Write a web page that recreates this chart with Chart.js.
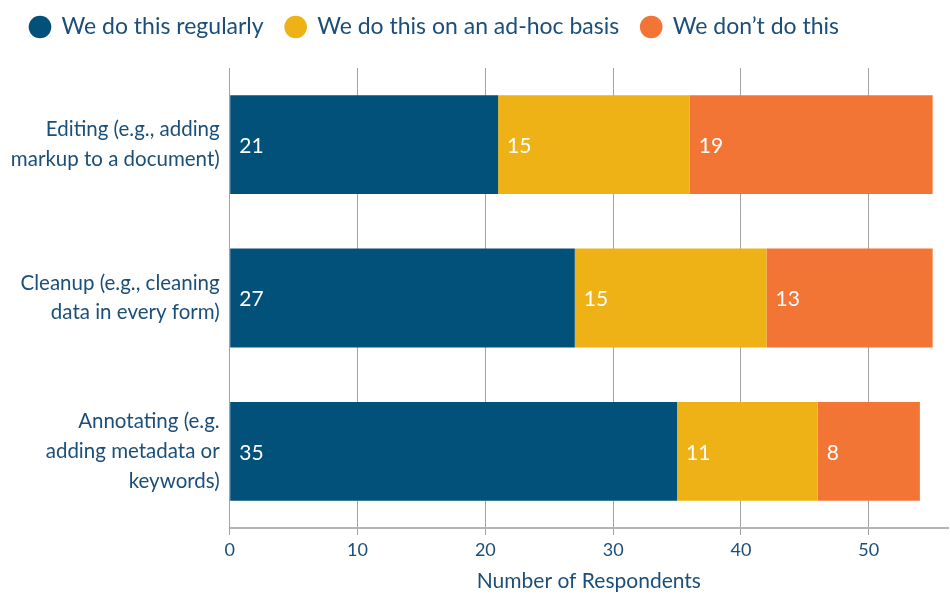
<!DOCTYPE html>
<html>
<head>
<meta charset="utf-8">
<script src="https://cdn.jsdelivr.net/npm/chart.js@4"></script>
<style>
html,body{margin:0;padding:0;background:#fff;}
#wrap{width:950px;height:594px;}
</style>
</head>
<body>
<div id="wrap"><canvas id="c" width="950" height="594"></canvas></div>
<script>
const categories = [
  ["Editing (e.g., adding", "markup to a document)"],
  ["Cleanup (e.g., cleaning", "data in every form)"],
  ["Annotating (e.g.", "adding metadata or", "keywords)"]
];
const seriesNames = ["We do this regularly", "We do this on an ad-hoc basis", "We don\u2019t do this"];
const regularly = [21, 27, 35];
const adhoc = [15, 15, 11];
const dont = [19, 13, 8];
const xTicks = [0, 10, 20, 30, 40, 50];

const TEXT = '#1b4f79';
const FONT = 'Lato, "Open Sans", sans-serif';

const labelPlugin = {
  id: 'segLabels',
  beforeLayout(chart) {
    const lg = chart.legend;
    if (lg && !lg._patched) {
      const f = lg.fit.bind(lg);
      lg.fit = function () { f(); this.height = 68; };
      lg._patched = true;
    }
  },
  afterLayout(chart) {
    const lg = chart.legend;
    if (lg) { lg.top -= 6.5; lg.bottom -= 6.5; }
  },
  afterDatasetsDraw(chart) {
    const ctx = chart.ctx;
    ctx.save();
    ctx.font = '21px ' + FONT;
    ctx.fillStyle = '#ffffff';
    ctx.textAlign = 'left';
    ctx.textBaseline = 'middle';
    chart.data.datasets.forEach((ds, i) => {
      const meta = chart.getDatasetMeta(i);
      meta.data.forEach((bar, j) => {
        const left = Math.min(bar.x, bar.base);
        ctx.fillText(String(ds.data[j]), left + 9, bar.y + 1.5);
      });
    });
    ctx.restore();
  }
};

new Chart(document.getElementById('c'), {
  type: 'bar',
  data: {
    labels: categories,
    datasets: [
      { label: seriesNames[0], data: regularly, backgroundColor: '#02517b' },
      { label: seriesNames[1], data: adhoc, backgroundColor: '#eeb217' },
      { label: seriesNames[2], data: dont, backgroundColor: '#f37535' }
    ]
  },
  options: {
    indexAxis: 'y',
    responsive: false,
    animation: false,
    layout: { padding: { top: 0, right: 2, left: 8, bottom: 0 } },
    datasets: { bar: { categoryPercentage: 1, barPercentage: 0.645, borderWidth: 0 } },
    plugins: {
      legend: {
        position: 'top',
        align: 'start',
        labels: {
          usePointStyle: true,
          pointStyle: 'circle',
          boxHeight: 16,
          boxWidth: 20,
          padding: 22,
          color: TEXT,
          font: { family: FONT, size: 23 }
        }
      },
      tooltip: { enabled: false }
    },
    scales: {
      x: {
        stacked: true,
        min: 0,
        max: 56.2,
        afterBuildTicks(axis) {
          axis.ticks = xTicks.map(v => ({ value: v }));
        },
        afterFit(axis) { axis.height = 66; },
        grid: { color: '#a3a3a3', lineWidth: 1, drawTicks: true, tickLength: 7, tickColor: '#a3a3a3' },
        border: { color: '#b5b5b5', width: 2 },
        ticks: { color: TEXT, font: { family: FONT, size: 18 }, padding: 4 },
        title: { display: true, text: 'Number of Respondents', color: TEXT, font: { family: FONT, size: 21 }, padding: { top: 4, bottom: 0 } }
      },
      y: {
        stacked: true,
        afterFit(axis) { axis.width = 229.7 - 8; },
        grid: { display: false, drawTicks: false },
        border: { color: '#a3a3a3', width: 1 },
        ticks: { color: TEXT, font: { family: FONT, size: 20.5, lineHeight: 1.45 }, padding: 10 }
      }
    }
  },
  plugins: [labelPlugin]
});
</script>
</body>
</html>
